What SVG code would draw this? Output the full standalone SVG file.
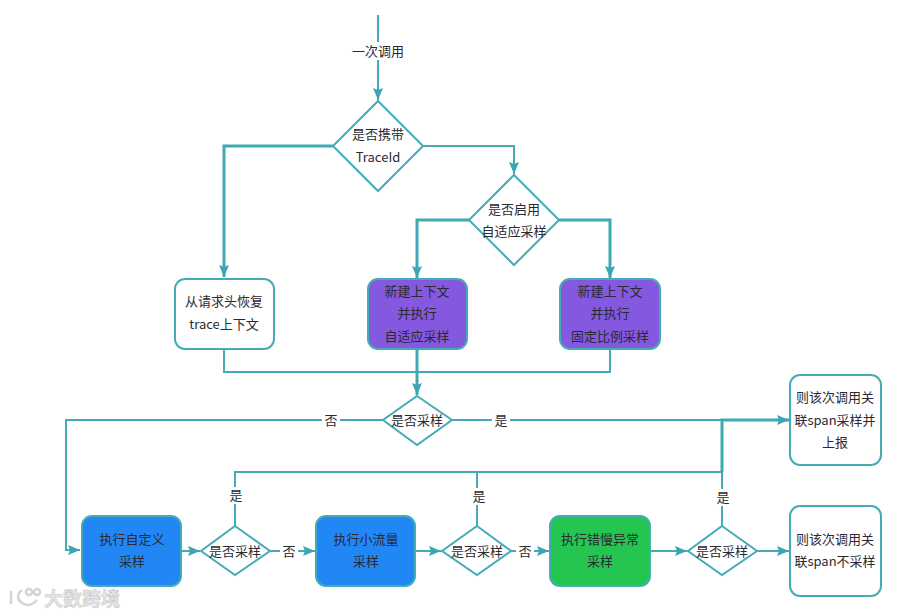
<svg xmlns="http://www.w3.org/2000/svg" width="911" height="616" viewBox="0 0 911 616">
<style>
text{font-family:"Noto Sans CJK SC","Liberation Sans",sans-serif;font-size:13px;fill:#2a2a33;text-anchor:middle}
.w{fill:#fff;stroke:#45abb4;stroke-width:2}
.p{fill:#8558e0;stroke:#45abb4;stroke-width:2}
.b{fill:#2187f5;stroke:#45abb4;stroke-width:2}
.g{fill:#25c552;stroke:#45abb4;stroke-width:2}
.c{fill:none;stroke:#45abb4;stroke-width:2}
.t{fill:none;stroke:#3fa8b3;stroke-width:3}
.lb{fill:#fff;stroke:none}
.wm{font-size:19px;font-weight:700;fill:#e6e6e6;stroke:#c4c4c4;stroke-width:.5;text-anchor:start}
.lg{fill:none;stroke:#d4d4d4;stroke-width:2.500}
</style>
<defs><marker id="a" markerUnits="userSpaceOnUse" markerWidth="13" markerHeight="12" refX="12" refY="6" orient="auto"><path d="M0 1L12 6L0 11L2 6Z" fill="#3aa6b2"/></marker></defs>
<rect width="911" height="616" fill="#fff"/>
<g id="connectors">
<path class="c" d="M378 15V100" marker-end="url(#a)"/>
<path class="t" d="M333 146H224V277" marker-end="url(#a)"/>
<path class="c" d="M423 146H514V174" marker-end="url(#a)"/>
<path class="t" d="M469 220H417V278" marker-end="url(#a)"/>
<path class="t" d="M559 220H610V278" marker-end="url(#a)"/>
<path class="c" d="M224 349V372H610V349"/>
<path class="t" d="M417 349V395" marker-end="url(#a)"/>
<path class="c" d="M383 420H66V550H80" marker-end="url(#a)"/>
<path class="c" d="M452 420H722"/>
<path class="c" d="M181 551H200" marker-end="url(#a)"/>
<path class="c" d="M270 551H315" marker-end="url(#a)"/>
<path class="c" d="M415 551H441" marker-end="url(#a)"/>
<path class="c" d="M511 551H549" marker-end="url(#a)"/>
<path class="c" d="M650 551H687" marker-end="url(#a)"/>
<path class="c" d="M757 551H789" marker-end="url(#a)"/>
<path class="c" d="M235 526V472H722"/>
<path class="c" d="M477 526V472"/>
<path class="c" d="M722 526V472"/>
<path class="t" d="M722 472V420H789" marker-end="url(#a)"/>
</g>
<g id="edge-labels">
<rect class="lb" x="350" y="42" width="56" height="18"/><text x="378" y="55.500">一次调用</text>
<rect class="lb" x="322" y="412" width="18" height="17"/><text x="331" y="425">否</text>
<rect class="lb" x="492" y="412" width="18" height="17"/><text x="501" y="425">是</text>
<rect class="lb" x="227" y="487" width="18" height="17"/><text x="236" y="500">是</text>
<rect class="lb" x="470" y="488" width="18" height="17"/><text x="479" y="501">是</text>
<rect class="lb" x="714" y="489" width="18" height="17"/><text x="723" y="502">是</text>
<rect class="lb" x="280" y="543" width="18" height="17"/><text x="289" y="555.500">否</text>
<rect class="lb" x="516" y="543" width="18" height="17"/><text x="525" y="555.500">否</text>
</g>
<g id="n1"><path class="w" d="M378 101L423 146L378 191L333 146Z"/><text x="378" y="139">是否携带</text><text x="378" y="162">TraceId</text></g>
<g id="n2"><path class="w" d="M514 175L559 220L514 265L469 220Z"/><text x="514" y="214">是否启用</text><text x="514" y="236">自适应采样</text></g>
<g id="n3"><rect class="w" x="175" y="279" width="99" height="70" rx="10"/><text x="224" y="306">从请求头恢复</text><text x="224" y="329">trace上下文</text></g>
<g id="n4"><rect class="p" x="368" y="279" width="99" height="70" rx="10"/><text x="417" y="296">新建上下文</text><text x="417" y="318">并执行</text><text x="417" y="341">自适应采样</text></g>
<g id="n5"><rect class="p" x="560" y="279" width="100" height="70" rx="10"/><text x="610" y="296">新建上下文</text><text x="610" y="318">并执行</text><text x="610" y="341">固定比例采样</text></g>
<g id="n6"><path class="w" d="M417 396L452 420L417 445L383 420Z"/><text x="417" y="425">是否采样</text></g>
<g id="n7"><rect class="w" x="790" y="375" width="91" height="90" rx="10"/><text x="835" y="402">则该次调用关</text><text x="835" y="425">联span采样并</text><text x="835" y="447">上报</text></g>
<g id="n8"><rect class="b" x="82" y="516" width="99" height="70" rx="10"/><text x="132" y="544">执行自定义</text><text x="132" y="566">采样</text></g>
<g id="n9"><path class="w" d="M235 526L270 551L235 575L201 551Z"/><text x="235" y="555.500">是否采样</text></g>
<g id="n10"><rect class="b" x="316" y="516" width="99" height="70" rx="10"/><text x="366" y="544">执行小流量</text><text x="366" y="566">采样</text></g>
<g id="n11"><path class="w" d="M477 526L511 551L477 575L442 551Z"/><text x="477" y="555.500">是否采样</text></g>
<g id="n12"><rect class="g" x="550" y="516" width="100" height="70" rx="10"/><text x="600" y="544">执行错慢异常</text><text x="600" y="566">采样</text></g>
<g id="n13"><path class="w" d="M722 526L757 551L722 575L688 551Z"/><text x="722" y="555.500">是否采样</text></g>
<g id="n14"><rect class="w" x="790" y="506" width="91" height="90" rx="10"/><text x="835" y="544">则该次调用关</text><text x="835" y="566">联span不采样</text></g>
<g id="watermark"><path class="lg" d="M11 591V604M22 590Q14 597 22 603Q30 608 37 600"/><circle class="lg" cx="29" cy="592" r="3"/><circle class="lg" cx="37" cy="592" r="3"/><text class="wm" x="44" y="606">大数跨境</text></g>
</svg>
